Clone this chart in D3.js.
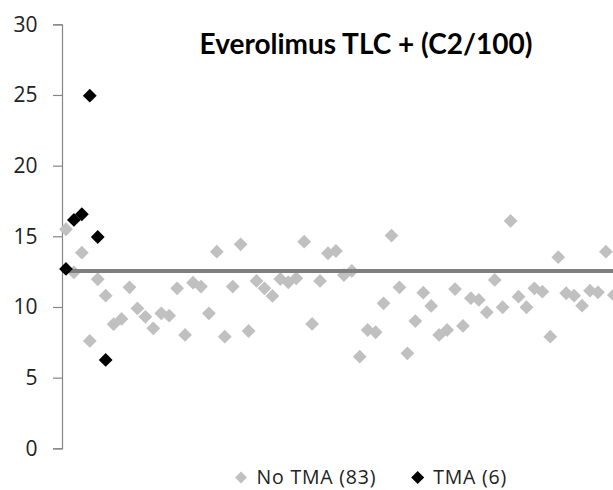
<!DOCTYPE html>
<html>
<head>
<meta charset="utf-8">
<script src="https://cdn.jsdelivr.net/npm/d3@7"></script>
<style>
  body { margin: 0; background: #fff; }
  svg { display: block; }
</style>
</head>
<body>
<div id="chart"></div>
<script>
// values, one per patient slot
const noTma = [15.5, 12.45, 13.84, 7.6, 11.96, 10.8, 8.78, 9.15, 11.39, 9.9,
  9.3, 8.49, 9.55, 9.38, 11.32, 8.02, 11.72, 11.44, 9.55, 13.91,
  7.9, 11.44, 14.43, 8.3, 11.84, 11.32, 10.78, 11.98, 11.75, 12.03,
  14.62, 8.8, 11.84, 13.8, 13.96, 12.26, 12.55, 6.48, 8.37, 8.21,
  10.26, 15.05, 11.39, 6.72, 9.0, 11.01, 10.07, 8.02, 8.37, 11.27,
  8.66, 10.62, 10.5, 9.62, 11.91, 9.98, 16.09, 10.73, 9.98, 11.32,
  11.08, 7.9, 13.52, 10.97, 10.8, 10.09, 11.15, 11.04, 13.91, 10.85]
const tma = [12.69, 16.16, 16.56, 24.95, 14.95, 6.25]
const threshold = 12.55
const yTicks = [0, 5, 10, 15, 20, 25, 30]
const legendLabels = ["No TMA (83)", "TMA (6)"]
const title = "Everolimus TLC + (C2/100)"

const width = 613, height = 490
const plotLeft = 62, plotTop = 24.3, plotBottom = 448.3
const step = 7.94

const svg = d3.select("#chart").append("svg")
  .attr("width", width)
  .attr("height", height)
  .style("font-family", "'Open Sans', Lato, sans-serif")

const x = d3.scaleBand()
  .domain(d3.range(noTma.length))
  .range([plotLeft, plotLeft + step * noTma.length])
  .padding(0)

const y = d3.scaleLinear()
  .domain([0, 30])
  .range([plotBottom, plotTop])

const cx = i => x(i) + x.bandwidth() / 2

// y axis
const yAxis = svg.append("g")
  .attr("transform", `translate(${plotLeft},0)`)
  .call(d3.axisLeft(y).tickValues(yTicks).tickSize(9).tickPadding(15.5))
yAxis.select(".domain").attr("stroke", "#868686").attr("stroke-width", 1.2)
yAxis.selectAll(".tick line").attr("stroke", "#868686").attr("stroke-width", 1.2)
yAxis.selectAll(".tick text")
  .attr("fill", "#222")
  .style("font-size", "21px")
  .style("font-family", "'Open Sans', Lato, sans-serif")

const diamond = d3.symbol().type(d3.symbolSquare).size(95)

// gray series
svg.append("g")
  .selectAll("path")
  .data(noTma)
  .join("path")
  .attr("d", diamond)
  .attr("fill", "#c0c0c0")
  .attr("transform", (d, i) => `translate(${cx(i)},${y(d)}) rotate(45)`)

// threshold line
svg.append("line")
  .attr("x1", plotLeft)
  .attr("x2", width)
  .attr("y1", y(threshold))
  .attr("y2", y(threshold))
  .attr("stroke", "#7f7f7f")
  .attr("stroke-width", 4)

// black series
svg.append("g")
  .selectAll("path")
  .data(tma)
  .join("path")
  .attr("d", diamond)
  .attr("fill", "#000")
  .attr("transform", (d, i) => `translate(${cx(i)},${y(d)}) rotate(45)`)

// title
svg.append("text")
  .attr("x", 366)
  .attr("y", 54)
  .attr("text-anchor", "middle")
  .style("font-family", "Lato, 'Open Sans', sans-serif")
  .style("font-size", "28px")
  .style("font-weight", "700")
  .attr("fill", "#000")
  .text(title)

// legend
const legendColors = ["#c0c0c0", "#000"]
const legendSizes = [70, 85]
const legendX = [241, 417.7]
const lg = svg.append("g")
legendLabels.forEach((lab, i) => {
  lg.append("path")
    .attr("d", d3.symbol().type(d3.symbolSquare).size(legendSizes[i]))
    .attr("fill", legendColors[i])
    .attr("transform", `translate(${legendX[i]},477.5) rotate(45)`)
  lg.append("text")
    .attr("x", legendX[i] + 15.5)
    .attr("y", 483.5)
    .style("font-size", "19.5px")
    .style("letter-spacing", "0.8px")
    .attr("fill", "#222")
    .text(lab)
})
</script>
</body>
</html>
